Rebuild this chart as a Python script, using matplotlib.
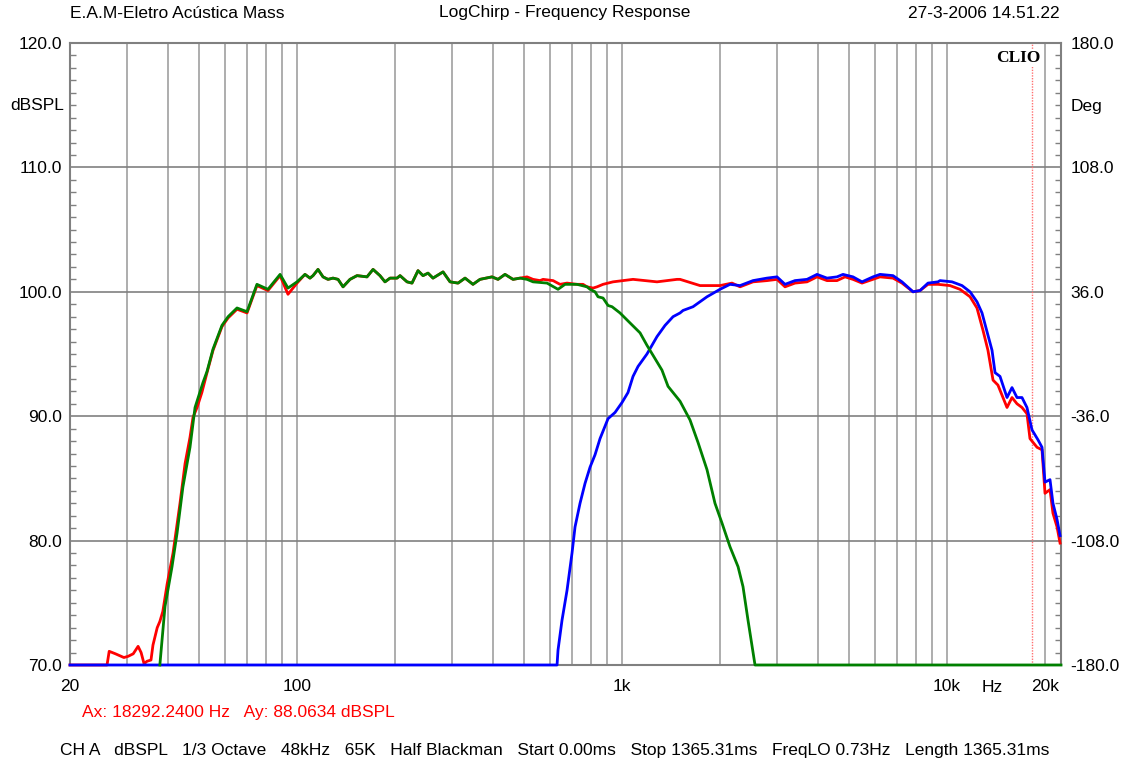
import matplotlib
matplotlib.use("Agg")
import matplotlib.pyplot as plt
from matplotlib.ticker import FixedLocator, MultipleLocator, NullFormatter

plt.rcParams["font.family"] = ["Liberation Sans", "DejaVu Sans"]

# --- data (Hz, dBSPL) ---
red_f = [20, 26.0, 26.4, 27.6, 29.3, 30.2, 31.3, 32.4, 33.1, 33.8, 34.5, 35.5, 36.0, 37.1,
         37.8, 38.6, 39.8, 41.5, 43.6, 45.2, 46.8, 47.8, 49.2, 50.9, 52.8, 55.1, 58.7,
         61.3, 65.3, 70.1, 75.2, 81.3, 88.6, 93.7, 99.9, 105.7, 109.5,
         111.9, 115.9, 120.1, 124.4, 128.9, 133.6, 138.4, 145.4, 152.8, 164.0, 171.2,
         179.8, 186.3, 193.1, 202.9, 207.3, 217.8, 225.6, 235.4, 243.9, 252.7, 261.8,
         281.1, 295.4, 312.6, 328.5, 347.5, 365.2, 397.7, 414.9, 436.0, 461.5, 485.1,
         509.7, 531.8, 558.8, 570.8, 612.8, 643.8, 676.6, 726.3, 757.8, 779.7, 813.6,
         836.9, 873.2, 937.3, 1080, 1280, 1475, 1507, 1736, 2000, 2178, 2305, 2527,
         2790, 2995, 3170, 3402, 3705, 3977, 4269, 4581, 4850, 5132, 5470, 5912, 6213,
         6813, 7261, 7850, 8250, 8730, 9372, 10200, 10950, 11760, 12350, 12890, 13350,
         13840, 14330, 15280, 15830, 16400, 16990, 17600, 17980, 18900, 19580, 20000,
         20720, 21160, 21780, 22250]
red_db = [70.0, 70.0, 71.1, 70.9, 70.6, 70.7, 70.9, 71.5, 71.0, 70.1, 70.3, 70.4, 71.6, 73.0,
          73.5, 74.3, 76.5, 79.0, 83.0, 86.2, 88.3, 89.9, 90.7, 91.9, 93.5, 95.3, 97.2,
          97.9, 98.6, 98.3, 100.5, 100.1, 101.3, 99.8, 100.7, 101.4, 101.1,
          101.3, 101.8, 101.2, 101.0, 101.1, 101.0, 100.4, 101.0, 101.3, 101.2, 101.8,
          101.3, 100.8, 101.1, 101.1, 101.3, 100.8, 100.7, 101.7, 101.3, 101.5, 101.1,
          101.6, 100.8, 100.7, 101.1, 100.6, 101.0, 101.2, 101.0, 101.4, 101.0, 101.1,
          101.2, 101.0, 100.9, 101.0, 100.9, 100.6, 100.7, 100.6, 100.6, 100.4, 100.3,
          100.4, 100.6, 100.8, 101.0, 100.8, 101.0, 101.0, 100.5, 100.5, 100.7, 100.4, 100.8,
          100.9, 101.0, 100.4, 100.7, 100.8, 101.2, 100.9, 100.9, 101.2, 101.0, 100.7, 101.0, 101.2,
          101.1, 100.7, 100.0, 100.1, 100.6, 100.6, 100.5, 100.2, 99.6, 98.7, 96.9, 95.3,
          92.9, 92.5, 90.7, 91.5, 91.0, 90.7, 90.2, 88.2, 87.5, 87.3, 83.8,
          84.1, 82.2, 81.1, 79.8]

green_f = [37.8, 39.2, 41.2, 42.7, 44.5, 46.8, 48.5, 51.3, 52.8, 55.1, 58.7, 61.3, 65.3,
           70.1, 75.2, 81.3, 88.6, 93.7, 99.9, 105.7, 109.5,
           111.9, 115.9, 120.1, 124.4, 128.9, 133.6, 138.4, 145.4, 152.8, 164.0, 171.2,
           179.8, 186.3, 193.1, 202.9, 207.3, 217.8, 225.6, 235.4, 243.9, 252.7, 261.8,
           281.1, 295.4, 312.6, 328.5, 347.5, 365.2, 397.7, 414.9, 436.0, 461.5, 485.1,
           509.7, 531.8, 587.2, 634.8, 667.0, 726.3, 779.7, 796.4, 825.1, 842.8, 873.2,
           904.7, 930.7, 984.7, 1057, 1135, 1192, 1244, 1326, 1384, 1507, 1617, 1711,
           1824, 1930, 2029, 2147, 2273, 2354, 2439, 2563, 22400]
green_db = [70.0, 74.7, 77.9, 80.6, 84.3, 87.5, 90.7, 92.7, 93.6, 95.4, 97.3, 98.0, 98.7,
            98.4, 100.6, 100.2, 101.4, 100.3, 100.8, 101.4, 101.1,
            101.3, 101.8, 101.2, 101.0, 101.1, 101.0, 100.4, 101.0, 101.3, 101.2, 101.8,
            101.3, 100.8, 101.1, 101.1, 101.3, 100.8, 100.7, 101.7, 101.3, 101.5, 101.1,
            101.6, 100.8, 100.7, 101.1, 100.6, 101.0, 101.2, 101.0, 101.4, 101.0, 101.1,
            101.0, 100.8, 100.7, 100.2, 100.6, 100.6, 100.4, 100.2, 100.0, 99.6, 99.5,
            98.9, 98.8, 98.3, 97.5, 96.7, 95.7, 94.9, 93.7, 92.4, 91.2, 89.7, 87.9,
            85.7, 83.0, 81.4, 79.5, 77.9, 76.3, 73.6, 70.0, 70.0]

blue_f = [20, 630.4, 634.8, 653.0, 676.6, 701.0, 716.1, 741.9, 768.7, 796.4, 825.1, 854.9,
          904.7, 950.7, 998.9, 1042, 1080, 1119, 1192, 1280, 1355, 1434, 1507, 1539,
          1652, 1824, 2000, 2147, 2305, 2527, 2790, 2995, 3170, 3402, 3705, 3977, 4269,
          4581, 4781, 5132, 5470, 5912, 6213, 6813, 7261, 7850, 8250, 8730, 9372, 9505,
          10350, 11110, 11760, 12350, 12800, 13260, 13740, 14040, 14540, 15280, 15830,
          16400, 16990, 17600, 18240, 19030, 19580, 20000, 20720, 21160, 21780, 22250]
blue_db = [70.0, 70.0, 71.2, 73.6, 76.0, 79.0, 81.1, 83.0, 84.6, 85.9, 86.9, 88.2,
           89.8, 90.3, 91.1, 91.9, 93.2, 94.0, 95.0, 96.4, 97.3, 98.0, 98.3, 98.5,
           98.8, 99.6, 100.2, 100.6, 100.5, 100.9, 101.1, 101.2, 100.6, 100.9, 101.0, 101.4, 101.1,
           101.2, 101.4, 101.2, 100.8, 101.2, 101.4, 101.3, 100.8, 100.0, 100.1, 100.7, 100.8, 100.9,
           100.8, 100.5, 100.0, 99.2, 98.3, 96.8, 95.3, 93.5, 93.2, 91.5, 92.3,
           91.5, 91.5, 90.7, 88.9, 88.1, 87.5, 84.7, 84.9, 83.0, 81.7, 80.4]

cursor_hz = 18292.24
grid_freqs = [20, 30, 40, 50, 60, 70, 80, 90, 100, 200, 300, 400, 500, 600, 700, 800, 900,
              1000, 2000, 3000, 4000, 5000, 6000, 7000, 8000, 9000, 10000, 20000]
x_ticks = [20, 100, 1000, 10000, 20000]
x_labels = ["20", "100", "1k", "10k", "20k"]
y_ticks = [70, 80, 90, 100, 110, 120]
deg_ticks = [-180, -108, -36, 36, 108, 144, 180]
deg_labels = ["-180.0", "-108.0", "-36.0", "36.0", "108.0", "Deg", "180.0"]

FS = 12.5
W, H = 1124, 766
fig = plt.figure(figsize=(W / 100, H / 100), dpi=100)
ax = fig.add_axes([70 / W, 1 - 665 / H, (1061 - 70) / W, (665 - 43) / H])

ax.plot(red_f, red_db, color="#ff0000", lw=2.0, clip_on=False, zorder=3)
ax.plot(blue_f, blue_db, color="#0000ff", lw=2.0, clip_on=False, zorder=4)
ax.plot(green_f, green_db, color="#008000", lw=2.0, clip_on=False, zorder=5)
ax.axvline(cursor_hz, color="#ff7070", lw=1.0, ls=(0, (1, 1)), zorder=2)

ax.set_xscale("log")
ax.set_xlim(20, 22400)
ax.set_ylim(70, 120)

ax.xaxis.set_major_locator(FixedLocator(x_ticks))
ax.set_xticklabels(x_labels)
ax.xaxis.set_minor_locator(FixedLocator(grid_freqs))
ax.xaxis.set_minor_formatter(NullFormatter())
ax.set_yticks(y_ticks)
ax.set_yticklabels(["%.1f" % v for v in y_ticks])
ax.yaxis.set_minor_locator(MultipleLocator(1))

ax.grid(axis="x", which="both", color="#a0a0a0", lw=1.2, zorder=1)
ax.grid(axis="y", which="major", color="#808080", lw=1.2, zorder=1)
ax.tick_params(axis="x", which="both", length=0, labelsize=FS, pad=10)
ax.tick_params(axis="y", which="major", length=0, labelsize=FS, pad=6)
ax.tick_params(axis="y", which="minor", direction="in", length=4, width=1,
               color="#808080", left=True, right=True)
for s in ax.spines.values():
    s.set_color("#808080")
    s.set_linewidth(1.5)

sec = ax.secondary_yaxis("right", functions=(lambda d: (d - 95) * 7.2, lambda g: g / 7.2 + 95))
sec.set_yticks(deg_ticks)
sec.set_yticklabels(deg_labels)
sec.tick_params(length=0, labelsize=FS, pad=7)
sec.spines["right"].set_visible(False)

ax.annotate("dBSPL", xy=(0, 115), xycoords=ax.get_yaxis_transform(), xytext=(-6, 0),
            textcoords="offset pixels", ha="right", va="center", fontsize=FS)
ax.annotate("Hz", xy=(13740, 0), xycoords=ax.get_xaxis_transform(), xytext=(0, -23),
            textcoords="offset pixels", ha="center", va="center", fontsize=FS)
ax.text(0.9566, 0.976, "CLIO", transform=ax.transAxes, ha="center", va="center",
        family=["Liberation Serif", "DejaVu Serif"], weight="bold", fontsize=12.5,
        bbox=dict(facecolor="white", edgecolor="none", pad=1), zorder=6)

fig.text(70 / W, 1 - 13 / H, "E.A.M-Eletro Acústica Mass", ha="left", va="center", fontsize=FS)
fig.text(565 / W, 1 - 13 / H, "LogChirp - Frequency Response", ha="center", va="center", fontsize=FS)
fig.text(1060 / W, 1 - 13 / H, "27-3-2006 14.51.22", ha="right", va="center", fontsize=FS)
fig.text(82 / W, 1 - 712 / H, "Ax: 18292.2400 Hz   Ay: 88.0634 dBSPL", color="#ff0000",
         ha="left", va="center", fontsize=FS)
fig.text(60 / W, 1 - 751 / H,
         "CH A   dBSPL   1/3 Octave   48kHz   65K   Half Blackman   Start 0.00ms   "
         "Stop 1365.31ms   FreqLO 0.73Hz   Length 1365.31ms",
         ha="left", va="center", fontsize=FS)

fig.savefig("out.png", dpi=100, facecolor="white")
